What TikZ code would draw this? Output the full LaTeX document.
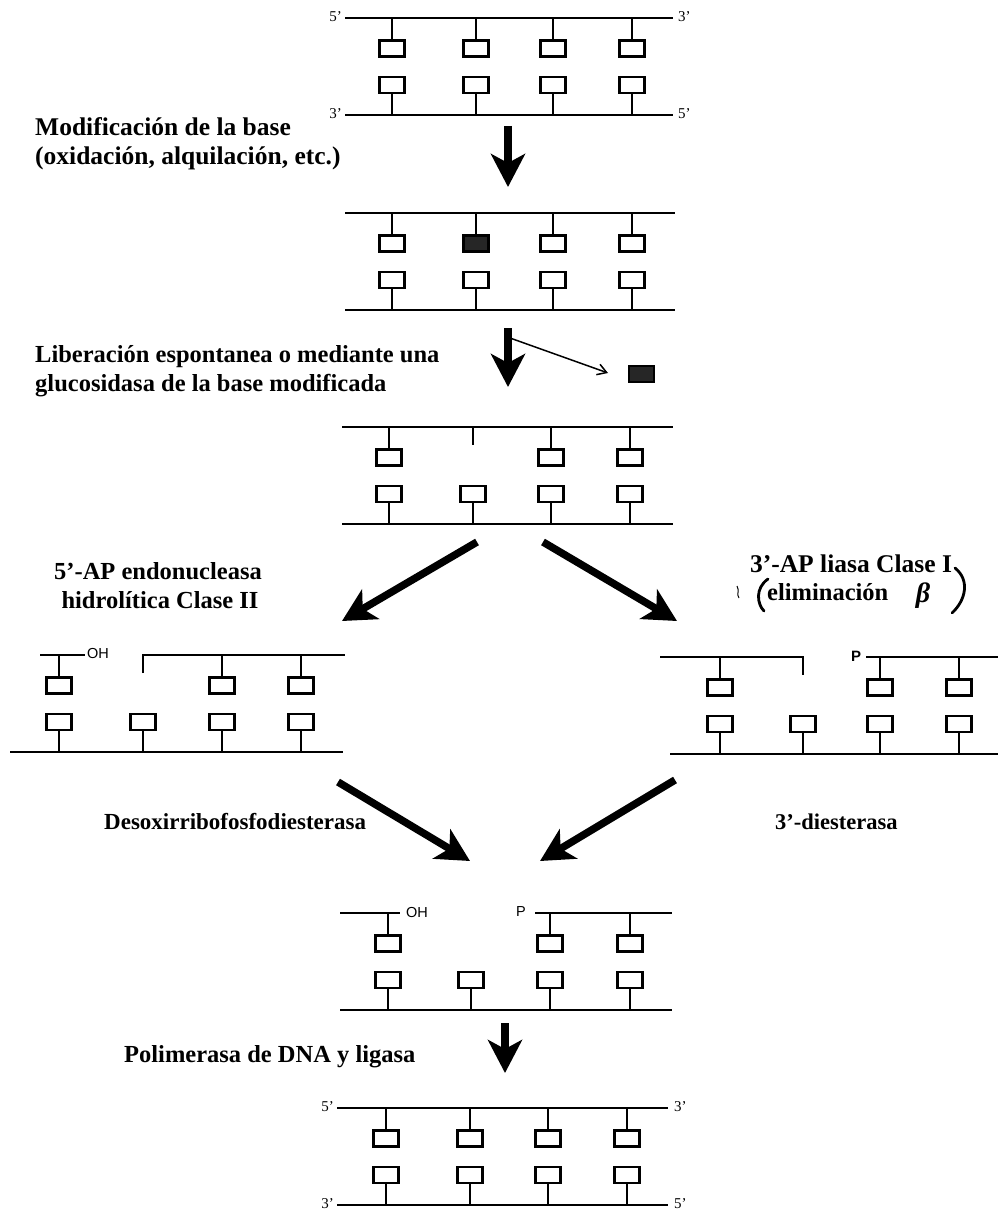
\documentclass[tikz,border=0pt]{standalone}
\usepackage{fontspec}
\setmainfont{Liberation Serif}
\newfontfamily\labelsans{Liberation Sans}
\usetikzlibrary{arrows.meta}

% one base pair hanging between the two backbones: name, x, y of upper backbone
\newcommand\bpair[3]{%
  \node[basebox] (#1t) at (#2,#3+30.5) {};
  \node[basebox] (#1b) at (#2,#3+67) {};
  \draw[stem] (#2,#3) -- (#1t.north);
  \draw[stem] (#1b.south) -- (#2,#3+97);
}
% only the lower base of a pair
\newcommand\lowbase[3]{%
  \node[basebox] (#1b) at (#2,#3+67) {};
  \draw[stem] (#1b.south) -- (#2,#3+97);
}
% only the upper base of a pair
\newcommand\upbase[3]{%
  \node[basebox] (#1t) at (#2,#3+30.5) {};
  \draw[stem] (#2,#3) -- (#1t.north);
}

\begin{document}
\begin{tikzpicture}[x=1pt,y=-1pt,
  backbone/.style={line width=2.8pt},
  stem/.style={line width=2.4pt},
  basebox/.style={draw,line width=2.7pt,minimum width=25pt,minimum height=16pt,inner sep=0pt,outer sep=0pt},
  lesion/.style={basebox,fill=black!85},
  heavyarrow/.style={line width=7.5pt,-{Stealth[length=33pt,width=34pt,inset=9pt]}},
  thinarrow/.style={line width=1.5pt,-{Straight Barb[length=9pt,width=11pt]}},
  steptext/.style={font=\fontsize{24.5}{28}\selectfont\bfseries,inner sep=0pt},
  endlabel/.style={font=\fontsize{15}{16}\selectfont,inner sep=0pt},
  chemlabel/.style={font=\labelsans\fontsize{14.5}{16}\selectfont,inner sep=0pt},
  hand/.style={line width=2.8pt,line cap=round}]

\useasboundingbox (0,0) rectangle (998,1214);

% ---------- intact duplex ----------
\draw[backbone] (345,18) -- (673,18);
\draw[backbone] (345,115) -- (673,115);
\foreach[count=\i] \x in {392,476,553,632} {\bpair{sa\i}{\x}{18}}
\node[endlabel,anchor=east] (sa5L) at (342,17) {5’};
\node[endlabel,anchor=west] (sa3R) at (678,17) {3’};
\node[endlabel,anchor=east] (sa3L) at (342,114) {3’};
\node[endlabel,anchor=west] (sa5R) at (678,114) {5’};

\node[steptext,anchor=base west,font=\fontsize{25.5}{28}\selectfont\bfseries] (t1a) at (35,136) {Modificación de la base};
\node[steptext,anchor=base west,font=\fontsize{25.5}{28}\selectfont\bfseries] (t1b) at (35,165) {(oxidación, alquilación, etc.)};

\coordinate (a1s) at (508,126);
\coordinate (a1e) at (508,187);
\draw[heavyarrow] (a1s) -- (a1e);

% ---------- duplex with a modified base ----------
\draw[backbone] (345,213) -- (675,213);
\draw[backbone] (345,310) -- (675,310);
\foreach[count=\i] \x in {392,476,553,632} {\bpair{sb\i}{\x}{213}}
\node[lesion] at (sb2t) {};

\node[steptext,anchor=base west] (t2a) at (35,362) {Liberación espontanea o mediante una};
\node[steptext,anchor=base west] (t2b) at (35,391) {glucosidasa de la base modificada};

\coordinate (a2s) at (508,328);
\coordinate (a2e) at (508,387);
\draw[heavyarrow] (a2s) -- (a2e);
\node[lesion,minimum height=16pt] (freed) at (641.5,374) {};
\coordinate (a3s) at (510,338);
\coordinate (a3e) at (608,373);
\draw[thinarrow] (a3s) -- (a3e);

% ---------- abasic site ----------
\draw[backbone] (342,427) -- (673,427);
\draw[backbone] (342,524) -- (673,524);
\foreach[count=\i] \x in {389,551,630} {\upbase{sc\i}{\x}{427}}
\foreach[count=\i] \x in {389,473,551,630} {\lowbase{sc\i}{\x}{427}}
\draw[stem] (473,427) -- (473,445);

\coordinate (bls) at (477,542);
\coordinate (ble) at (342,621);
\coordinate (brs) at (543,542);
\coordinate (bre) at (677,621);
\draw[heavyarrow] (bls) -- (ble);
\draw[heavyarrow] (brs) -- (bre);

% ---------- left branch ----------
\node[steptext,anchor=base] (t3a) at (158,579) {5’-AP endonucleasa};
\node[steptext,anchor=base] (t3b) at (160,608) {hidrolítica Clase II};

\draw[backbone] (40,655) -- (85,655);
\node[chemlabel,anchor=west] (ohL) at (87,654) {OH};
\draw[backbone] (143,673) -- (143,655) -- (345,655);
\draw[backbone] (10,752) -- (343,752);
\foreach[count=\i] \x in {59,222,301} {\upbase{sd\i}{\x}{655}}
\foreach[count=\i] \x in {59,143,222,301} {\lowbase{sd\i}{\x}{655}}

% ---------- right branch ----------
\node[steptext,anchor=base,font=\fontsize{25.5}{28}\selectfont\bfseries] (t4a) at (851,572) {3’-AP liasa Clase I};
\node[steptext,anchor=base west] (t4b) at (767,600) {eliminación};
\node[font=\fontsize{28}{28}\selectfont\bfseries\itshape,inner sep=0pt] (beta) at (923,596) {β};
\draw[hand] (768,579) .. controls (755,588) and (757,604) .. (764,611);
\draw[hand] (955,568) .. controls (970,580) and (966,600) .. (952,613);
\draw[line width=1pt] (737,586) .. controls (740,591) and (736,594) .. (739,598);

\draw[backbone] (660,657) -- (803,657) -- (803,675);
\node[chemlabel,anchor=center,font=\labelsans\bfseries\fontsize{15}{16}\selectfont] (pR) at (856,656) {P};
\draw[backbone] (866,657) -- (998,657);
\draw[backbone] (670,754) -- (998,754);
\foreach[count=\i] \x in {720,880,959} {\upbase{se\i}{\x}{657}}
\foreach[count=\i] \x in {720,803,880,959} {\lowbase{se\i}{\x}{657}}

% ---------- converging steps ----------
\node[steptext,anchor=base west,font=\fontsize{23}{28}\selectfont\bfseries] (t5) at (104,829) {Desoxirribofosfodiesterasa};
\node[steptext,anchor=base west,font=\fontsize{22.5}{28}\selectfont\bfseries] (t6) at (775,829) {3’-diesterasa};

\coordinate (cls) at (338,782);
\coordinate (cle) at (470,861);
\coordinate (crs) at (675,780);
\coordinate (cre) at (540,861);
\draw[heavyarrow] (cls) -- (cle);
\draw[heavyarrow] (crs) -- (cre);

% ---------- one-nucleotide gap ----------
\draw[backbone] (340,913) -- (400,913);
\node[chemlabel,anchor=west] (ohC) at (406,912) {OH};
\node[chemlabel,anchor=center] (pC) at (521,912) {P};
\draw[backbone] (535,913) -- (672,913);
\draw[backbone] (340,1010) -- (672,1010);
\foreach[count=\i] \x in {388,550,630} {\upbase{sf\i}{\x}{913}}
\foreach[count=\i] \x in {388,471,550,630} {\lowbase{sf\i}{\x}{913}}

\node[steptext,anchor=base west] (t7) at (124,1062) {Polimerasa de DNA y ligasa};
\coordinate (a4s) at (505,1023);
\coordinate (a4e) at (505,1073);
\draw[heavyarrow] (a4s) -- (a4e);

% ---------- repaired duplex ----------
\draw[backbone] (337,1108) -- (668,1108);
\draw[backbone] (337,1205) -- (668,1205);
\foreach[count=\i] \x in {386,470,548,627} {\bpair{sg\i}{\x}{1108}}
\node[endlabel,anchor=east] (sg5L) at (334,1107) {5’};
\node[endlabel,anchor=west] (sg3R) at (674,1107) {3’};
\node[endlabel,anchor=east] (sg3L) at (334,1204) {3’};
\node[endlabel,anchor=west] (sg5R) at (674,1204) {5’};

\end{tikzpicture}
\end{document}
